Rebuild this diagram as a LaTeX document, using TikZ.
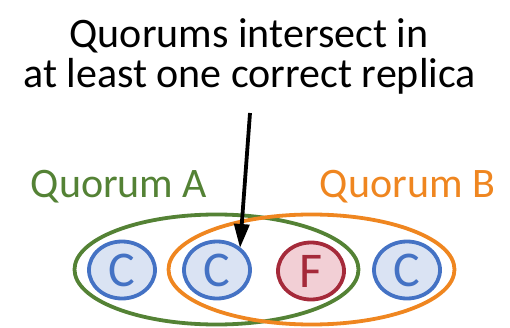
\documentclass[tikz,border=0pt]{standalone}
\usepackage{fontspec}
\setmainfont{Carlito}
\usetikzlibrary{shapes.geometric,arrows.meta}
\definecolor{qgreen}{HTML}{548235}
\definecolor{qorange}{HTML}{EF8620}
\definecolor{cblue}{HTML}{4472C4}
\definecolor{cfill}{HTML}{DAE3F3}
\definecolor{fred}{HTML}{A52A3A}
\definecolor{ffill}{HTML}{F2CFD5}
\begin{document}
\begin{tikzpicture}[x=1pt,y=-1pt,
  bigtext/.style={font=\fontsize{42}{46}\selectfont, anchor=base, inner sep=0pt},
  quorum/.style={ellipse, draw, line width=3.8pt, inner sep=0pt, minimum width=284pt, minimum height=110pt},
  replica/.style={ellipse, draw=cblue, fill=cfill, line width=3.8pt, inner sep=0pt, minimum width=66pt, minimum height=57pt, text=cblue, font=\fontsize{50}{50}\selectfont},
  faulty/.style={replica, draw=fred, fill=ffill, text=fred},
  pointer/.style={line width=3.8pt, -{Triangle[length=24pt,width=15pt]}}]
\useasboundingbox (0,0) rectangle (510,328);
\node[bigtext] (t1) at (249,48) {Quorums intersect in};
\node[bigtext] (t2) at (249.5,88) {at least one correct replica};
\node[bigtext, text=qgreen] (qa) at (119,198) {Quorum A};
\node[bigtext, text=qorange] (qb) at (407.5,198) {Quorum B};
\node[quorum, draw=qgreen] (A) at (216.5,269.5) {};
\node[quorum, draw=qorange, minimum width=286pt] (B) at (311.5,269.5) {};
\node[replica] (c1) at (122,270) {C};
\node[replica] (c2) at (217,270) {C};
\node[faulty] (f) at (311,271) {F};
\node[replica] (c3) at (407,270) {C};
\coordinate (from) at (250,113);
\coordinate (to) at (240,248);
\draw[pointer] (from) -- (to);
\end{tikzpicture}
\end{document}
